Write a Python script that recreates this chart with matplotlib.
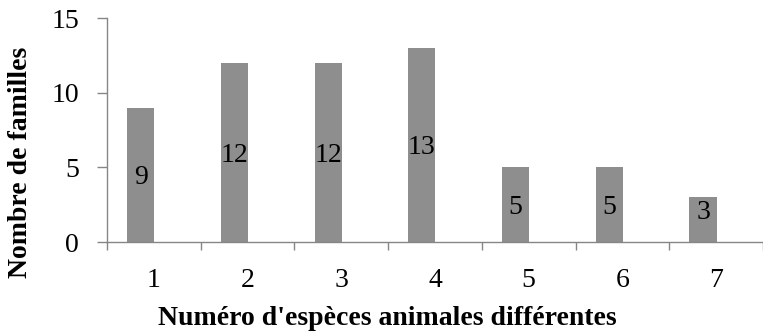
import matplotlib
matplotlib.use('Agg')
from matplotlib import pyplot as plt
import numpy as np

categories = ['1', '2', '3', '4', '5', '6', '7']
familles = [9, 12, 12, 13, 5, 5, 3]
y_ticks = [0, 5, 10, 15]

plt.rcParams['font.family'] = ['Liberation Serif', 'DejaVu Serif']
axis_grey = '#868686'
bar_grey = '#8e8e8e'

fig = plt.figure(figsize=(7.63, 3.33), dpi=100)
ax = fig.add_axes([107/763, 1 - 242/333, 656/763, 224/333])

x = np.arange(1, len(categories) + 1)
bars = ax.bar(x - 0.14, familles, width=0.29, color=bar_grey, zorder=2)

# labels sit a bit under mid-height, but never too close to the axis
for xi, v in zip(x, familles):
    ax.text(xi - 0.14, max(v / 2 - 0.2, 2.0), str(v), ha='center', va='center',
            fontsize=20, color='black')

ax.set_xlim(0.5, 7.5)
ax.set_ylim(0, 15)
ax.set_yticks(y_ticks)
ax.set_yticklabels([str(t) for t in y_ticks], fontsize=20)

# category labels at centers, tick marks at category boundaries
ax.set_xticks(np.arange(0.5, 8.0, 1.0))
ax.set_xticklabels([])
ax.set_xticks(x, minor=True)
ax.set_xticklabels(categories, minor=True, fontsize=20)
ax.tick_params(axis='x', which='minor', length=0, pad=19)
ax.tick_params(axis='x', which='major', length=6, color=axis_grey, width=1)
ax.tick_params(axis='y', length=7, color=axis_grey, width=1, pad=13)

for s in ['top', 'right']:
    ax.spines[s].set_visible(False)
for s in ['left', 'bottom']:
    ax.spines[s].set_color(axis_grey)
    ax.spines[s].set_linewidth(1)
ax.spines['bottom'].set_clip_on(False)

ax.set_ylabel('Nombre de familles', fontsize=20, fontweight='bold')
ax.yaxis.set_label_coords(-74/656, 0.5 - 32/224)
ax.set_xlabel("Numéro d'espèces animales différentes", fontsize=20, fontweight='bold')
ax.xaxis.set_label_coords(280/656, -64/224)

fig.savefig('out.png', dpi=100)
